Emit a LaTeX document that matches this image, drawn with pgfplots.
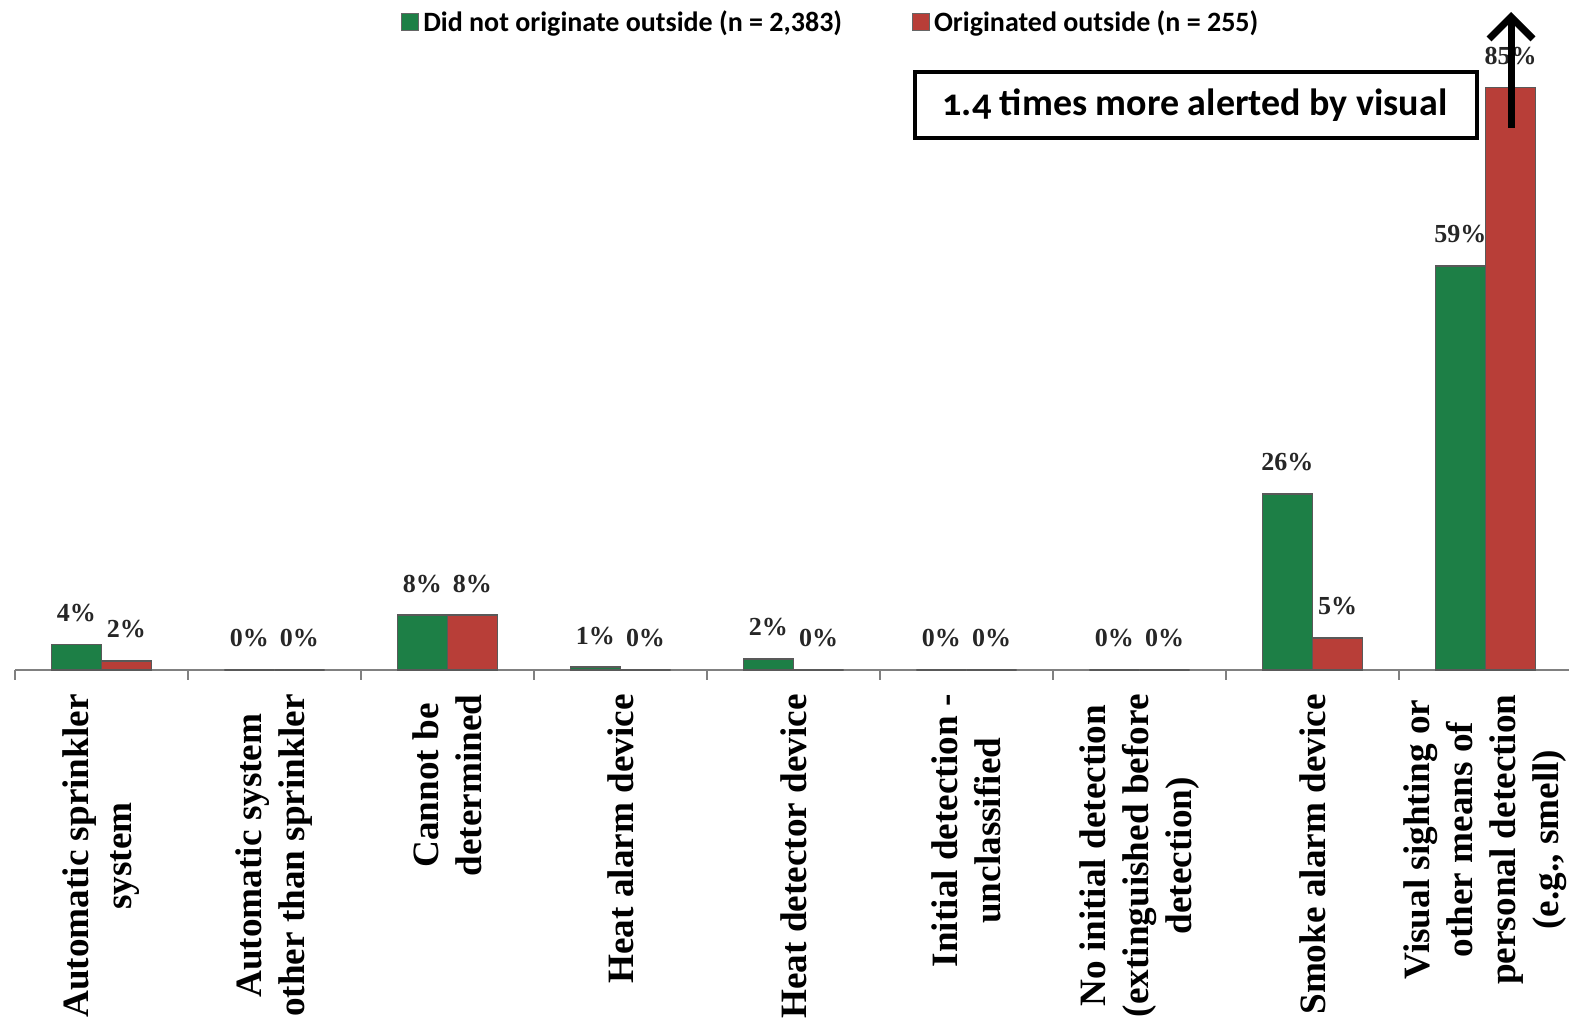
\documentclass[border=0pt]{standalone}
\usepackage{fontspec}
\setmainfont{Liberation Serif}
\newfontfamily\carlito[Numbers=OldStyle]{Carlito}
\newfontfamily\carlitolin{Carlito}
\usepackage{pgfplots}
\pgfplotsset{compat=1.18}
\usetikzlibrary{arrows.meta}
\definecolor{cgreen}{HTML}{1D7F46}
\definecolor{cred}{HTML}{B83E38}
\definecolor{axgray}{HTML}{808080}
\begin{document}
\begin{tikzpicture}
\path[use as bounding box] (0,0) rectangle (784.5pt,514pt);
\begin{axis}[
  at={(7.5pt,179pt)}, anchor=south west,
  scale only axis, width=778.5pt, height=335pt,
  xmin=-0.5, xmax=8.5, ymin=0, ymax=97.8,
  axis x line*=bottom, axis y line=none,
  x axis line style={draw=axgray, line width=1pt, -},
  ybar=0pt, bar width=25pt,
  xtick={0,...,8},
  xticklabels={
    {Automatic sprinkler\\system},
    {Automatic system\\other than sprinkler},
    {Cannot be\\determined},
    {Heat alarm device},
    {Heat detector device},
    {Initial detection -\\unclassified},
    {No initial detection\\(extinguished before\\detection)},
    {Smoke alarm device},
    {Visual sighting or\\other means of\\personal detection\\(e.g., smell)}},
  xticklabel style={rotate=90, anchor=east, align=center, inner xsep=12pt, inner ysep=0pt,
    font=\fontsize{18.6}{21.5}\selectfont\bfseries},
  major tick length=0pt,
  minor xtick={-0.5,0.5,...,8.5},
  minor tick length=5pt, tick align=outside,
  tick style={draw=axgray, line width=1pt},
  clip=false,
  nodes near coords, point meta=explicit symbolic,
  every node near coord/.append style={font=\fontsize{13}{15}\selectfont\bfseries, inner sep=0pt, yshift=11pt, color=black!85},
  legend style={at={(0.244,0.967)}, anchor=west, draw=none, fill=none,
    font=\carlitolin\fontsize{14}{16}\selectfont\bfseries,
    legend columns=2, /tikz/every even column/.append style={column sep=33pt}},
]
\addplot[fill=cgreen, draw=black!65, line width=0.8pt,
  legend image code/.code={\draw[fill=cgreen, draw=black!60, line width=0.5pt] (0pt,-4.25pt) rectangle (8.5pt,4.25pt);}]
  coordinates {(0,3.7)[4\%] (1,0)[0\%] (2,8)[8\%] (3,0.4)[1\%] (4,1.6)[2\%] (5,0)[0\%] (6,0)[0\%] (7,25.7)[26\%] (8,59)[59\%]};
\addlegendentry{Did not originate outside (n = 2,383)}
\addplot[fill=cred, draw=black!65, line width=0.8pt,
  legend image code/.code={\draw[fill=cred, draw=black!60, line width=0.5pt] (0pt,-4.25pt) rectangle (8.5pt,4.25pt);}]
  coordinates {(0,1.3)[2\%] (1,0)[0\%] (2,8)[8\%] (3,0)[0\%] (4,0)[0\%] (5,0)[0\%] (6,0)[0\%] (7,4.7)[5\%] (8,85)[85\%]};
\addlegendentry{Originated outside (n = 255)}
\end{axis}
\draw[line width=2pt, fill=white] (457.5pt,445pt) rectangle (738.5pt,478pt);
\node[font=\carlito\bfseries\fontsize{19}{21}\selectfont, inner sep=0pt] at (597.5pt,461.5pt) {1.4 times more alerted by visual};
\draw[line width=3.5pt, -{Straight Barb[length=11pt,width=22pt]}] (755.5pt,450pt) -- (755.5pt,508pt);
\end{tikzpicture}
\end{document}
